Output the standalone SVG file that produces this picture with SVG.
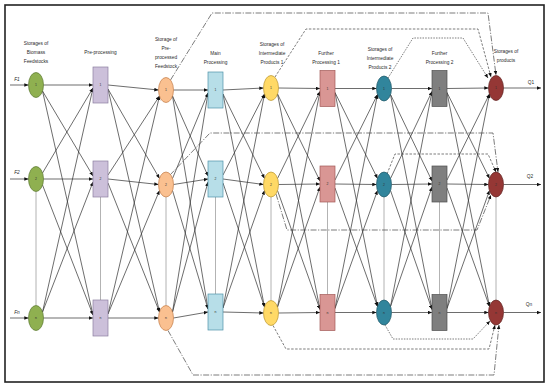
<svg xmlns="http://www.w3.org/2000/svg" width="550" height="387" viewBox="0 0 550 387">
<defs>
<marker id="ah" markerUnits="userSpaceOnUse" markerWidth="5" markerHeight="4" refX="4.2" refY="1.8" orient="auto"><path d="M0,0 L4.2,1.8 L0,3.6 z" fill="#111"/></marker>
<style>
.hdr{font-family:"Liberation Sans",Arial,sans-serif;font-size:4.8px;fill:#2a2a2a;text-anchor:middle}
.nl{font-family:"Liberation Sans",Arial,sans-serif;font-size:3.4px;fill:#333;text-anchor:middle}
.io{font-family:"Liberation Sans",Arial,sans-serif;font-size:4.8px;fill:#2a2a2a;text-anchor:middle}
.c line{stroke:#2e2e2e;stroke-width:0.7;marker-end:url(#ah)}
.v line{stroke:#a0a0a0;stroke-width:0.8}
.b{fill:none;stroke:#444;stroke-width:0.7;marker-end:url(#ah)}
.dd{stroke-dasharray:6 1.5 1.2 1.5}
.ds{stroke-dasharray:2.5 1.5}
.dt{stroke-dasharray:1.5 1.2}
.g{fill:#8fb050;stroke:#58752c;stroke-width:0.7}
.p{fill:#ccc0da;stroke:#8c7fa0;stroke-width:0.7}
.o{fill:#fac090;stroke:#c27a45;stroke-width:0.7}
.bl{fill:#b7dee8;stroke:#4f93a8;stroke-width:0.7}
.y{fill:#ffd966;stroke:#b8922a;stroke-width:0.7}
.pk{fill:#d99694;stroke:#a35b58;stroke-width:0.7}
.t{fill:#31859c;stroke:#1c5564;stroke-width:0.7}
.gr{fill:#7f7f7f;stroke:#4f4f4f;stroke-width:0.7}
.br{fill:#953735;stroke:#5e2120;stroke-width:0.7}
</style>
</defs>
<rect x="0" y="0" width="550" height="387" fill="#fff"/>
<rect x="5" y="5" width="539" height="377" fill="#fff" stroke="#222" stroke-width="1.6"/>

<g id="headers">
<text class="hdr" x="36" y="44.5">Storages of</text>
<text class="hdr" x="36" y="53.5">Biomass</text>
<text class="hdr" x="36" y="62.5">Feedstocks</text>
<text class="hdr" x="100.5" y="54">Pre-processing</text>
<text class="hdr" x="166" y="40.5">Storage of</text>
<text class="hdr" x="166" y="49.5">Pre-</text>
<text class="hdr" x="166" y="58.5">processed</text>
<text class="hdr" x="166" y="67.5">Feedstock</text>
<text class="hdr" x="215.5" y="54.5">Main</text>
<text class="hdr" x="215.5" y="63.5">Processing</text>
<text class="hdr" x="272" y="45.5">Storages of</text>
<text class="hdr" x="272" y="54.5">Intermediate</text>
<text class="hdr" x="272" y="63.5">Products 1</text>
<text class="hdr" x="326" y="54.5">Further</text>
<text class="hdr" x="326" y="63.5">Processing 1</text>
<text class="hdr" x="380" y="50.5">Storages of</text>
<text class="hdr" x="380" y="59.5">Intermediate</text>
<text class="hdr" x="380" y="68.5">Products 2</text>
<text class="hdr" x="439.5" y="55">Further</text>
<text class="hdr" x="439.5" y="64">Processing 2</text>
<text class="hdr" x="506" y="53">Storages of</text>
<text class="hdr" x="506" y="62">products</text>
</g>

<g id="connectors">
<g class="v">
<line x1="36" y1="191.5" x2="36" y2="305.5"/>
<line x1="100.5" y1="197" x2="100.5" y2="300"/>
<line x1="166" y1="197" x2="166" y2="305.5"/>
<line x1="215.5" y1="197" x2="215.5" y2="294"/>
<line x1="271" y1="197" x2="271" y2="300.5"/>
<line x1="327.5" y1="202" x2="327.5" y2="294.5"/>
<line x1="384" y1="197" x2="384" y2="300"/>
<line x1="439.5" y1="202" x2="439.5" y2="294.5"/>
<line x1="496" y1="197" x2="496" y2="300"/>
</g>
<g class="c">
<line x1="10" y1="85" x2="28.5" y2="85"/>
<line x1="10" y1="179" x2="28.5" y2="179"/>
<line x1="10" y1="318" x2="28.5" y2="318"/>
<line x1="503.5" y1="88" x2="541" y2="88"/>
<line x1="503.5" y1="184.5" x2="541" y2="184.5"/>
<line x1="503.5" y1="312.5" x2="541" y2="312.5"/>

<line x1="43.5" y1="85" x2="93" y2="85"/>
<line x1="42.5" y1="91" x2="93" y2="176"/>
<line x1="42.5" y1="91" x2="93" y2="315"/>
<line x1="42.5" y1="173" x2="93" y2="88"/>
<line x1="43.5" y1="179" x2="93" y2="179"/>
<line x1="42.5" y1="185" x2="93" y2="315"/>
<line x1="42.5" y1="312" x2="93" y2="88"/>
<line x1="42.5" y1="312" x2="93" y2="182"/>
<line x1="43.5" y1="318" x2="93" y2="318"/>

<line x1="108" y1="85" x2="158.5" y2="90"/>
<line x1="108" y1="89" x2="159.5" y2="178.5"/>
<line x1="108" y1="89" x2="159.5" y2="312"/>
<line x1="108" y1="175" x2="159.5" y2="96"/>
<line x1="108" y1="179" x2="158.5" y2="184.5"/>
<line x1="108" y1="183" x2="159.5" y2="312"/>
<line x1="108" y1="314" x2="159.5" y2="96"/>
<line x1="108" y1="314" x2="159.5" y2="190.5"/>
<line x1="108" y1="318" x2="158.5" y2="318"/>

<line x1="173.5" y1="90" x2="208" y2="90"/>
<line x1="172.5" y1="96" x2="208" y2="176"/>
<line x1="172.5" y1="96" x2="208" y2="309"/>
<line x1="172.5" y1="178.5" x2="208" y2="93"/>
<line x1="173.5" y1="184.5" x2="208" y2="179"/>
<line x1="172.5" y1="190.5" x2="208" y2="309"/>
<line x1="172.5" y1="312" x2="208" y2="93"/>
<line x1="172.5" y1="312" x2="208" y2="182"/>
<line x1="173.5" y1="318" x2="208" y2="312"/>

<line x1="223" y1="90" x2="263.5" y2="88"/>
<line x1="223" y1="94" x2="264.5" y2="178.5"/>
<line x1="223" y1="94" x2="264.5" y2="307"/>
<line x1="223" y1="175" x2="264.5" y2="94"/>
<line x1="223" y1="179" x2="263.5" y2="184.5"/>
<line x1="223" y1="183" x2="264.5" y2="307"/>
<line x1="223" y1="308" x2="264.5" y2="94"/>
<line x1="223" y1="308" x2="264.5" y2="190.5"/>
<line x1="223" y1="312" x2="263.5" y2="313"/>

<line x1="278.5" y1="88" x2="320" y2="88.5"/>
<line x1="277.5" y1="94" x2="320" y2="181"/>
<line x1="277.5" y1="94" x2="320" y2="309.5"/>
<line x1="277.5" y1="178.5" x2="320" y2="91.5"/>
<line x1="278.5" y1="184.5" x2="320" y2="184"/>
<line x1="277.5" y1="190.5" x2="320" y2="309.5"/>
<line x1="277.5" y1="307" x2="320" y2="91.5"/>
<line x1="277.5" y1="307" x2="320" y2="187"/>
<line x1="278.5" y1="313" x2="320" y2="312.5"/>

<line x1="335" y1="88.5" x2="376.5" y2="88.5"/>
<line x1="335" y1="92.5" x2="377.5" y2="178.5"/>
<line x1="335" y1="92.5" x2="377.5" y2="306.5"/>
<line x1="335" y1="180" x2="377.5" y2="94.5"/>
<line x1="335" y1="184" x2="376.5" y2="184.5"/>
<line x1="335" y1="188" x2="377.5" y2="306.5"/>
<line x1="335" y1="308.5" x2="377.5" y2="94.5"/>
<line x1="335" y1="308.5" x2="377.5" y2="190.5"/>
<line x1="335" y1="312.5" x2="376.5" y2="312.5"/>

<line x1="391.5" y1="88.5" x2="432" y2="88.5"/>
<line x1="390.5" y1="94.5" x2="432" y2="181"/>
<line x1="390.5" y1="94.5" x2="432" y2="309.5"/>
<line x1="390.5" y1="178.5" x2="432" y2="91.5"/>
<line x1="391.5" y1="184.5" x2="432" y2="184"/>
<line x1="390.5" y1="190.5" x2="432" y2="309.5"/>
<line x1="390.5" y1="306.5" x2="432" y2="91.5"/>
<line x1="390.5" y1="306.5" x2="432" y2="187"/>
<line x1="391.5" y1="312.5" x2="432" y2="312.5"/>

<line x1="447" y1="88.5" x2="488.5" y2="88"/>
<line x1="447" y1="92.5" x2="489.5" y2="178.5"/>
<line x1="447" y1="92.5" x2="489.5" y2="306.5"/>
<line x1="447" y1="180" x2="489.5" y2="94"/>
<line x1="447" y1="184" x2="488.5" y2="184.5"/>
<line x1="447" y1="188" x2="489.5" y2="306.5"/>
<line x1="447" y1="308.5" x2="489.5" y2="94"/>
<line x1="447" y1="308.5" x2="489.5" y2="190.5"/>
<line x1="447" y1="312.5" x2="488.5" y2="312.5"/>
</g>
<polyline class="b dd" points="170.5,80 212,13 488,13 496,75"/>
<polyline class="b ds" points="275,77 306,29 478,29 491,77"/>
<polyline class="b dt" points="388,78 413,38 463,38 488,78"/>
<polyline class="b dd" points="170,175 210,133 493,133 498,172"/>
<polyline class="b dd" points="276,194 287,230 477,230 491,195"/>
<polyline class="b ds" points="387,174 395,154 488,154 496,172"/>
<polyline class="b dd" points="168,330.5 193,375 494,375 499,325"/>
<polyline class="b ds" points="273,325.5 286,349 489,349 495,325"/>
<polyline class="b dt" points="385,325 393,339 473,339 490,321"/>
</g>

<g id="io-labels">
<text class="io" x="17" y="81" font-style="italic">F1</text>
<text class="io" x="17" y="174" font-style="italic">F2</text>
<text class="io" x="17" y="314" font-style="italic">Fn</text>
<text class="io" x="531" y="84">Q1</text>
<text class="io" x="530" y="178">Q2</text>
<text class="io" x="529" y="306">Qn</text>
</g>

<g id="g1"><ellipse class="g" cx="36" cy="85" rx="7.5" ry="12.5"/><text class="nl" x="36" y="86.2">1</text></g>
<g id="g2"><ellipse class="g" cx="36" cy="179" rx="7.5" ry="12.5"/><text class="nl" x="36" y="180.2">2</text></g>
<g id="gn"><ellipse class="g" cx="36" cy="318" rx="7.5" ry="12.5"/><text class="nl" x="36" y="319.2">n</text></g>

<g id="p1"><rect class="p" x="93" y="67" width="15" height="36"/><text class="nl" x="100.5" y="86.2">1</text></g>
<g id="p2"><rect class="p" x="93" y="161" width="15" height="36"/><text class="nl" x="100.5" y="180.2">2</text></g>
<g id="pn"><rect class="p" x="93" y="300" width="15" height="36"/><text class="nl" x="100.5" y="319.2">n</text></g>

<g id="o1"><ellipse class="o" cx="166" cy="90" rx="7.5" ry="12.5"/><text class="nl" x="166" y="91.2">1</text></g>
<g id="o2"><ellipse class="o" cx="166" cy="184.5" rx="7.5" ry="12.5"/><text class="nl" x="166" y="185.7">2</text></g>
<g id="on"><ellipse class="o" cx="166" cy="318" rx="7.5" ry="12.5"/><text class="nl" x="166" y="319.2">n</text></g>

<g id="m1"><rect class="bl" x="208" y="72" width="15" height="36"/><text class="nl" x="215.5" y="91.2">1</text></g>
<g id="m2"><rect class="bl" x="208" y="161" width="15" height="36"/><text class="nl" x="215.5" y="180.2">2</text></g>
<g id="mn"><rect class="bl" x="208" y="294" width="15" height="36"/><text class="nl" x="215.5" y="313.2">n</text></g>

<g id="y1"><ellipse class="y" cx="271" cy="88" rx="7.5" ry="12.5"/><text class="nl" x="271" y="89.2">1</text></g>
<g id="y2"><ellipse class="y" cx="271" cy="184.5" rx="7.5" ry="12.5"/><text class="nl" x="271" y="185.7">2</text></g>
<g id="yn"><ellipse class="y" cx="271" cy="313" rx="7.5" ry="12.5"/><text class="nl" x="271" y="314.2">n</text></g>

<g id="f1"><rect class="pk" x="320" y="70.5" width="15" height="36"/><text class="nl" x="327.5" y="89.7">1</text></g>
<g id="f2"><rect class="pk" x="320" y="166" width="15" height="36"/><text class="nl" x="327.5" y="185.2">2</text></g>
<g id="fn"><rect class="pk" x="320" y="294.5" width="15" height="36"/><text class="nl" x="327.5" y="313.7">n</text></g>

<g id="t1"><ellipse class="t" cx="384" cy="88.5" rx="7.5" ry="12.5"/><text class="nl" x="384" y="89.7">1</text></g>
<g id="t2"><ellipse class="t" cx="384" cy="184.5" rx="7.5" ry="12.5"/><text class="nl" x="384" y="185.7">2</text></g>
<g id="tn"><ellipse class="t" cx="384" cy="312.5" rx="7.5" ry="12.5"/><text class="nl" x="384" y="313.7">n</text></g>

<g id="h1"><rect class="gr" x="432" y="70.5" width="15" height="36"/><text class="nl" x="439.5" y="89.7">1</text></g>
<g id="h2"><rect class="gr" x="432" y="166" width="15" height="36"/><text class="nl" x="439.5" y="185.2">2</text></g>
<g id="hn"><rect class="gr" x="432" y="294.5" width="15" height="36"/><text class="nl" x="439.5" y="313.7">n</text></g>

<g id="s1"><ellipse class="br" cx="496" cy="88" rx="7.5" ry="12.5"/><text class="nl" x="496" y="89.2">1</text></g>
<g id="s2"><ellipse class="br" cx="496" cy="184.5" rx="7.5" ry="12.5"/><text class="nl" x="496" y="185.7">2</text></g>
<g id="sn"><ellipse class="br" cx="496" cy="312.5" rx="7.5" ry="12.5"/><text class="nl" x="496" y="313.7">n</text></g>
</svg>
